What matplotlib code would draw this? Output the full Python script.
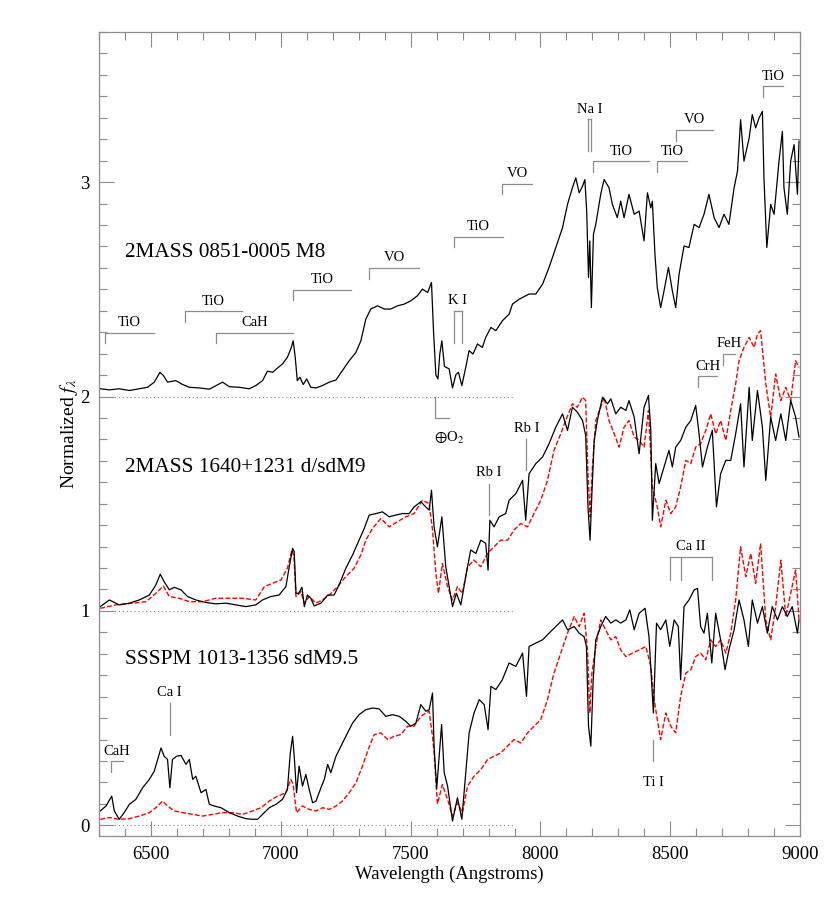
import matplotlib
matplotlib.use("Agg")
import matplotlib.pyplot as plt
from matplotlib.ticker import MultipleLocator

plt.rcParams['font.family'] = ['Liberation Serif', 'DejaVu Serif']
plt.rcParams['mathtext.fontset'] = 'stix'

# 2MASS 0851-0005 M8 (offset +2)
m8_wave = [6304, 6339, 6377, 6416, 6454, 6486, 6512, 6534, 6547, 6563, 6595, 6621, 6647, 6685, 6724,
           6775, 6801, 6839, 6878, 6903, 6929, 6948, 6968, 6987, 7006, 7025, 7040, 7047, 7055, 7063,
           7073, 7086, 7099, 7115, 7135, 7160, 7186, 7212, 7237, 7263, 7289, 7308, 7327, 7346, 7372,
           7398, 7423, 7449, 7475, 7500, 7526, 7545, 7565, 7580, 7588, 7597, 7605, 7612, 7620, 7630,
           7648, 7661, 7674, 7684, 7697, 7712, 7725, 7740, 7757, 7776, 7789, 7809, 7828, 7853, 7879,
           7892, 7918, 7956, 7982, 8008, 8033, 8059, 8085, 8104, 8123, 8136, 8149, 8162, 8171, 8178,
           8185, 8190, 8196, 8204, 8213, 8232, 8245, 8264, 8277, 8296, 8309, 8322, 8341, 8361, 8380,
           8399, 8412, 8425, 8431, 8441, 8450, 8463, 8476, 8493, 8508, 8521, 8534, 8553, 8572, 8592,
           8611, 8630, 8649, 8669, 8688, 8707, 8726, 8746, 8759, 8771, 8784, 8804, 8816, 8829, 8842,
           8855, 8861, 8872, 8887, 8900, 8919, 8932, 8938, 8951, 8964, 8977, 8990, 8996]
m8_flux = [2.036, 2.031, 2.036, 2.028, 2.036, 2.043, 2.067, 2.113, 2.098, 2.067, 2.074, 2.056, 2.043, 2.040, 2.034,
           2.067, 2.046, 2.043, 2.036, 2.051, 2.074, 2.118, 2.113, 2.133, 2.152, 2.183, 2.229, 2.260, 2.183, 2.074,
           2.090, 2.056, 2.082, 2.043, 2.040, 2.051, 2.067, 2.077, 2.121, 2.167, 2.206, 2.260, 2.361, 2.408, 2.423,
           2.408, 2.408, 2.423, 2.431, 2.446, 2.470, 2.501, 2.485, 2.532, 2.300, 2.100, 2.082, 2.198, 2.260, 2.140,
           2.129, 2.040, 2.102, 2.113, 2.051, 2.136, 2.214, 2.198, 2.245, 2.229, 2.276, 2.322, 2.307, 2.353, 2.384,
           2.431, 2.454, 2.478, 2.478, 2.524, 2.602, 2.695, 2.788, 2.896, 2.974, 3.020, 2.950, 2.981, 3.012, 2.865,
           2.555, 2.726, 2.415, 2.757, 2.803, 2.943, 3.012, 2.974, 2.896, 2.834, 2.911, 2.834, 2.943, 2.850, 2.865,
           2.726, 2.950, 2.880, 2.911, 2.664, 2.508, 2.415, 2.493, 2.602, 2.493, 2.415, 2.571, 2.702, 2.695, 2.803,
           2.788, 2.850, 2.943, 2.834, 2.788, 2.850, 2.803, 2.974, 3.051, 3.291, 3.098, 3.206, 3.315, 3.253, 3.299,
           3.330, 3.020, 2.695, 2.896, 2.850, 3.098, 3.237, 2.974, 2.850, 3.098, 3.175, 2.943, 3.191]

# 2MASS 1640+1231 d/sdM9 (offset +1)
sdm9_wave = [6304, 6339, 6377, 6416, 6454, 6493, 6518, 6535, 6550, 6570, 6589, 6615, 6640, 6672, 6711,
             6749, 6788, 6826, 6865, 6903, 6929, 6961, 6993, 7019, 7032, 7045, 7051, 7058, 7068, 7081,
             7090, 7102, 7115, 7128, 7154, 7180, 7205, 7224, 7250, 7276, 7301, 7321, 7340, 7366, 7391,
             7417, 7443, 7468, 7494, 7513, 7539, 7558, 7571, 7580, 7590, 7603, 7620, 7635, 7648, 7661,
             7676, 7693, 7712, 7731, 7751, 7770, 7789, 7798, 7805, 7821, 7841, 7866, 7879, 7905, 7931,
             7943, 7956, 7982, 8008, 8033, 8059, 8085, 8104, 8123, 8142, 8162, 8174, 8183, 8191, 8198,
             8207, 8219, 8239, 8258, 8271, 8290, 8309, 8329, 8341, 8361, 8380, 8399, 8416, 8425, 8431,
             8444, 8457, 8476, 8495, 8508, 8521, 8540, 8560, 8579, 8598, 8611, 8624, 8643, 8662, 8678,
             8694, 8714, 8733, 8752, 8771, 8784, 8804, 8816, 8836, 8855, 8868, 8887, 8906, 8926, 8945,
             8964, 8983, 8996]
sdm9_flux = [1.020, 1.051, 1.028, 1.036, 1.051, 1.074, 1.121, 1.171, 1.136, 1.098, 1.110, 1.098, 1.067, 1.051, 1.039,
             1.033, 1.036, 1.028, 1.020, 1.028, 1.051, 1.067, 1.074, 1.113, 1.206, 1.292, 1.276, 1.082, 1.082, 1.110,
             1.020, 1.074, 1.059, 1.023, 1.036, 1.074, 1.074, 1.121, 1.199, 1.261, 1.330, 1.385, 1.447, 1.454, 1.462,
             1.439, 1.447, 1.454, 1.454, 1.485, 1.509, 1.485, 1.470, 1.563, 1.392, 1.299, 1.439, 1.206, 1.113, 1.020,
             1.082, 1.028, 1.160, 1.284, 1.268, 1.330, 1.315, 1.190, 1.423, 1.392, 1.439, 1.454, 1.516, 1.547, 1.609,
             1.423, 1.640, 1.687, 1.718, 1.780, 1.857, 1.919, 1.842, 1.950, 1.927, 1.888, 1.819, 1.485, 1.330, 1.547,
             1.795, 1.888, 1.997, 1.966, 1.989, 1.919, 1.950, 1.935, 1.981, 1.904, 1.733, 1.950, 2.005, 1.842, 1.423,
             1.687, 1.594, 1.671, 1.749, 1.671, 1.764, 1.795, 1.857, 1.888, 1.958, 1.826, 1.671, 1.764, 1.842, 1.485,
             1.640, 1.702, 1.702, 1.826, 1.966, 1.671, 2.043, 1.795, 2.028, 1.857, 1.609, 1.904, 1.795, 1.919, 1.795,
             1.981, 1.904, 1.811]

# comparison spectrum shown against 2MASS 1640+1231 (red, offset +1)
ref1_wave = [6304, 6364, 6428, 6480, 6518, 6547, 6570, 6608, 6647, 6698, 6749, 6801, 6852, 6903, 6936,
             6968, 7000, 7025, 7042, 7050, 7058, 7077, 7090, 7109, 7135, 7160, 7186, 7218, 7250, 7282,
             7308, 7327, 7353, 7385, 7417, 7449, 7481, 7513, 7545, 7571, 7584, 7597, 7607, 7622, 7642,
             7661, 7680, 7699, 7719, 7744, 7770, 7796, 7821, 7847, 7873, 7898, 7924, 7950, 7975, 8001,
             8027, 8052, 8078, 8097, 8123, 8142, 8162, 8174, 8183, 8191, 8200, 8213, 8232, 8245, 8264,
             8284, 8303, 8322, 8341, 8361, 8380, 8399, 8416, 8431, 8450, 8463, 8483, 8502, 8521, 8540,
             8560, 8579, 8598, 8617, 8637, 8656, 8675, 8694, 8714, 8733, 8752, 8765, 8784, 8804, 8823,
             8836, 8848, 8868, 8887, 8906, 8926, 8945, 8964, 8983, 8996]
ref1_flux = [1.012, 1.028, 1.036, 1.043, 1.082, 1.116, 1.067, 1.059, 1.043, 1.043, 1.059, 1.059, 1.059, 1.051, 1.113,
             1.129, 1.144, 1.199, 1.284, 1.253, 1.067, 1.090, 1.036, 1.067, 1.036, 1.051, 1.074, 1.113, 1.160, 1.199,
             1.261, 1.330, 1.385, 1.431, 1.392, 1.416, 1.439, 1.454, 1.516, 1.501, 1.377, 1.175, 1.082, 1.222, 1.113,
             1.051, 1.113, 1.082, 1.206, 1.237, 1.206, 1.268, 1.299, 1.330, 1.330, 1.377, 1.408, 1.392, 1.454, 1.516,
             1.609, 1.749, 1.826, 1.888, 1.966, 1.950, 1.997, 1.981, 1.640, 1.439, 1.671, 1.888, 1.950, 1.997, 1.888,
             1.826, 1.764, 1.857, 1.888, 1.811, 1.795, 1.764, 1.935, 1.578, 1.485, 1.392, 1.516, 1.454, 1.485, 1.578,
             1.702, 1.687, 1.764, 1.780, 1.842, 1.919, 1.826, 1.888, 1.795, 1.935, 2.059, 2.167, 2.229, 2.276, 2.229,
             2.291, 2.307, 2.059, 1.904, 2.105, 1.981, 2.043, 1.981, 2.167, 2.136]

# SSSPM 1013-1356 sdM9.5 (offset 0)
sd95_wave = [6304, 6326, 6348, 6358, 6377, 6396, 6416, 6441, 6467, 6493, 6512, 6525, 6538, 6550, 6563,
             6572, 6582, 6598, 6615, 6634, 6647, 6660, 6672, 6692, 6711, 6724, 6743, 6769, 6801, 6833,
             6865, 6891, 6910, 6929, 6955, 6981, 7006, 7025, 7036, 7045, 7052, 7060, 7070, 7083, 7096,
             7109, 7122, 7135, 7154, 7167, 7180, 7192, 7212, 7231, 7250, 7276, 7301, 7327, 7353, 7378,
             7404, 7430, 7456, 7481, 7500, 7520, 7539, 7558, 7571, 7584, 7590, 7600, 7619, 7629, 7642,
             7661, 7680, 7697, 7712, 7725, 7744, 7764, 7783, 7798, 7809, 7828, 7853, 7879, 7905, 7931,
             7946, 7956, 7982, 8008, 8033, 8059, 8085, 8104, 8130, 8149, 8168, 8177, 8185, 8194, 8203,
             8213, 8232, 8251, 8271, 8290, 8309, 8329, 8344, 8361, 8380, 8403, 8418, 8435, 8447, 8463,
             8483, 8498, 8515, 8531, 8540, 8553, 8572, 8592, 8605, 8617, 8630, 8643, 8660, 8675, 8694,
             8711, 8726, 8746, 8765, 8784, 8801, 8816, 8836, 8855, 8874, 8893, 8913, 8932, 8951, 8970,
             8990, 8996]
sd95_flux = [0.067, 0.090, 0.136, 0.067, 0.028, 0.059, 0.098, 0.121, 0.175, 0.214, 0.253, 0.307, 0.361, 0.322, 0.307,
             0.175, 0.307, 0.322, 0.326, 0.284, 0.307, 0.214, 0.229, 0.152, 0.167, 0.098, 0.090, 0.082, 0.059, 0.043,
             0.031, 0.028, 0.028, 0.051, 0.082, 0.098, 0.121, 0.167, 0.338, 0.415, 0.307, 0.152, 0.276, 0.183, 0.237,
             0.167, 0.105, 0.113, 0.175, 0.214, 0.284, 0.245, 0.322, 0.369, 0.415, 0.477, 0.516, 0.539, 0.547, 0.543,
             0.508, 0.516, 0.508, 0.485, 0.462, 0.477, 0.563, 0.532, 0.539, 0.617, 0.369, 0.170, 0.470, 0.245, 0.183,
             0.020, 0.129, 0.028, 0.245, 0.431, 0.524, 0.586, 0.563, 0.446, 0.648, 0.633, 0.679, 0.757, 0.741, 0.803,
             0.601, 0.834, 0.850, 0.865, 0.896, 0.927, 0.958, 0.912, 0.927, 0.896, 0.880, 0.834, 0.462, 0.369, 0.679,
             0.865, 0.927, 0.974, 0.943, 0.958, 0.943, 0.958, 1.005, 0.912, 0.989, 1.012, 0.880, 0.524, 0.943, 0.912,
             0.958, 0.834, 0.958, 0.927, 0.679, 1.020, 1.051, 1.098, 1.105, 0.927, 0.896, 0.989, 0.757, 0.989, 0.865,
             0.726, 0.818, 0.912, 1.051, 0.958, 0.834, 1.051, 0.943, 1.020, 0.896, 1.020, 0.958, 1.020, 0.974, 1.020,
             0.896, 0.958]

# comparison spectrum shown against SSSPM 1013-1356 (red, offset 0)
ref0_wave = [6304, 6339, 6377, 6416, 6454, 6493, 6518, 6544, 6563, 6589, 6621, 6660, 6698, 6737, 6775,
             6814, 6852, 6891, 6923, 6955, 6987, 7019, 7038, 7047, 7060, 7083, 7109, 7135, 7160, 7186,
             7212, 7237, 7263, 7289, 7314, 7334, 7359, 7385, 7411, 7436, 7462, 7488, 7513, 7539, 7558,
             7571, 7584, 7590, 7603, 7622, 7642, 7661, 7680, 7699, 7719, 7744, 7770, 7796, 7821, 7847,
             7873, 7898, 7924, 7950, 7975, 8001, 8027, 8052, 8078, 8104, 8130, 8149, 8168, 8181, 8190,
             8198, 8213, 8232, 8251, 8271, 8290, 8309, 8329, 8354, 8380, 8406, 8425, 8438, 8450, 8463,
             8483, 8502, 8521, 8540, 8560, 8579, 8598, 8617, 8637, 8656, 8675, 8694, 8714, 8733, 8752,
             8771, 8791, 8810, 8829, 8848, 8868, 8887, 8906, 8926, 8945, 8964, 8983, 8996]
ref0_flux = [0.028, 0.036, 0.028, 0.031, 0.043, 0.059, 0.082, 0.113, 0.090, 0.067, 0.059, 0.051, 0.043, 0.051, 0.059,
             0.059, 0.051, 0.067, 0.082, 0.113, 0.136, 0.152, 0.214, 0.191, 0.059, 0.090, 0.074, 0.067, 0.082, 0.074,
             0.090, 0.113, 0.152, 0.198, 0.276, 0.346, 0.423, 0.431, 0.400, 0.415, 0.423, 0.462, 0.462, 0.508, 0.524,
             0.532, 0.415, 0.338, 0.100, 0.190, 0.121, 0.043, 0.105, 0.059, 0.183, 0.229, 0.260, 0.307, 0.322, 0.338,
             0.369, 0.400, 0.384, 0.431, 0.462, 0.493, 0.586, 0.710, 0.803, 0.896, 0.974, 0.927, 0.989, 0.818, 0.524,
             0.710, 0.834, 0.958, 0.912, 0.865, 0.880, 0.818, 0.787, 0.803, 0.818, 0.834, 0.741, 0.586, 0.493, 0.400,
             0.524, 0.462, 0.431, 0.601, 0.710, 0.725, 0.787, 0.803, 0.772, 0.865, 0.834, 0.865, 0.803, 0.896, 1.051,
             1.299, 1.160, 1.268, 1.129, 1.315, 0.958, 0.865, 1.020, 1.237, 0.974, 1.082, 1.191, 0.958]

names = ["2MASS 0851-0005 M8", "2MASS 1640+1231 d/sdM9", "SSSPM 1013-1356 sdM9.5"]
name_y = [2.672, 1.670, 0.775]
offsets = [2, 1, 0]

# band brackets: label, start, end, height
bands = [("TiO", 6322, 6512, 2.298), ("TiO", 6630, 6850, 2.397), ("CaH", 6749, 7048, 2.298),
         ("TiO", 7048, 7269, 2.498), ("VO", 7340, 7532, 2.600), ("TiO", 7665, 7857, 2.746),
         ("VO", 7851, 7969, 2.993), ("TiO", 8204, 8418, 3.098), ("TiO", 8448, 8566, 3.098),
         ("VO", 8521, 8666, 3.244), ("TiO", 8859, 8934, 3.447), ("CrH", 8608, 8679, 2.094),
         ("FeH", 8703, 8748, 2.198), ("CaH", 6345, 6390, 0.299)]
# atomic lines: label, wavelengths, top, bottom, text height
lines = [("K I", [7665, 7699], 2.400, 2.248, 2.447), ("Na I", [8183, 8195], 3.294, 3.147, 3.341),
         ("Rb I", [7946], 1.800, 1.656, 1.850), ("Rb I", [7801], 1.594, 1.447, 1.647),
         ("Ca I", [6571], 0.571, 0.423, 0.620), ("Ti I", [8435], 0.400, 0.299, 0.198),
         ("Ca II", [8498, 8540, 8660], 1.250, 1.145, 1.302)]

gray = '#8c8c8c'

fig = plt.figure(figsize=(8.3, 9.0), dpi=100)
ax = fig.add_axes([0.1196, 0.0711, 0.8443, 0.8933])

for off in offsets:
    ax.plot([6300, 7900], [off, off], color=gray, lw=0.8, ls=(0, (1, 2.5)))

ax.plot(ref1_wave, ref1_flux, color='red', lw=1.0, dashes=(3.5, 1.5))
ax.plot(ref0_wave, ref0_flux, color='red', lw=1.0, dashes=(3.5, 1.5))
ax.plot(m8_wave, m8_flux, color='black', lw=0.9)
ax.plot(sdm9_wave, sdm9_flux, color='black', lw=0.9)
ax.plot(sd95_wave, sd95_flux, color='black', lw=0.9)

for name, y in zip(names, name_y):
    ax.text(6400, y, name, fontsize=15.3, ha='left', va='center')

for lab, x0, x1, y in bands:
    ax.plot([x0, x0, x1], [y - 0.05, y, y], color=gray, lw=0.9)
    ax.text((x0 + x1) / 2, y + 0.047, lab, fontsize=10.5, ha='center', va='center')

for lab, xs, top, bot, ty in lines:
    if len(xs) > 1:
        ax.plot([xs[0], xs[-1]], [top, top], color=gray, lw=0.9)
    for x in xs:
        ax.plot([x, x], [top, bot], color=gray, lw=0.9)
    ax.text((xs[0] + xs[-1]) / 2, ty, lab, fontsize=10.5, ha='center', va='center')

# telluric O2 band
ax.plot([7593, 7593, 7648], [1.997, 1.898, 1.898], color=gray, lw=0.9)
ax.text(7590, 1.809, r'$\oplus$O$_2$', fontsize=10.5, ha='left', va='center')

ax.set_xlim(6300, 9000)
ax.set_ylim(-0.05, 3.70)
ax.xaxis.set_major_locator(MultipleLocator(500))
ax.xaxis.set_minor_locator(MultipleLocator(100))
ax.yaxis.set_major_locator(MultipleLocator(1))
ax.yaxis.set_minor_locator(MultipleLocator(0.1))
ax.tick_params(which='both', direction='in', top=True, right=True, color=gray, width=0.8,
               labelsize=13.5, pad=7)
ax.tick_params(which='major', length=11)
ax.tick_params(which='minor', length=5.5)
for s in ax.spines.values():
    s.set_color(gray)
    s.set_linewidth(0.9)

ax.set_xlabel('Wavelength (Angstroms)', fontsize=13.5, labelpad=2)
ax.set_ylabel(r'Normalized $f_\lambda$', fontsize=14, labelpad=0)

fig.savefig('out.png', dpi=100)
